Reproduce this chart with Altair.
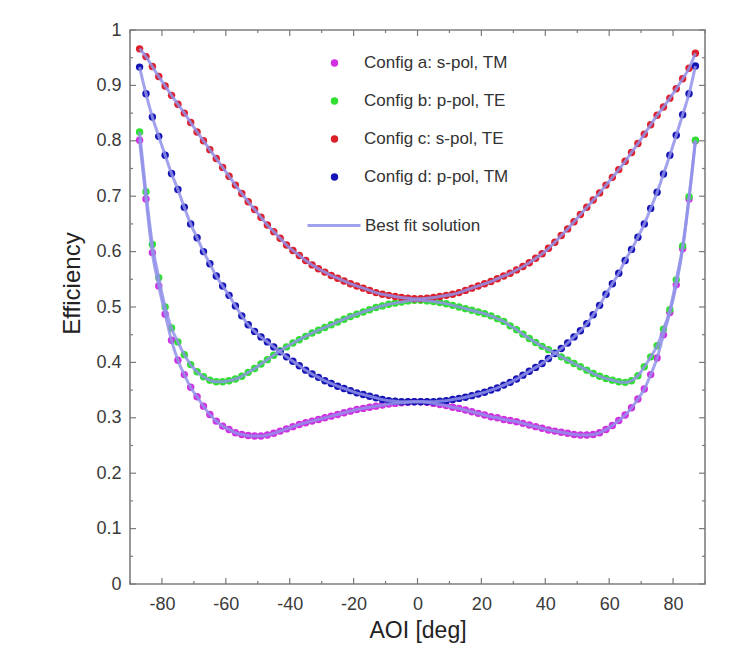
import altair as alt
import pandas as pd

aoi = [-87, -85, -83, -81, -79, -77, -75, -73, -71, -69, -67, -65, -63, -61, -59, -57, -55, -53, -51, -49, -47, -45,
       -43, -41, -39, -37, -35, -33, -31, -29, -27, -25, -23, -21, -19, -17, -15, -13, -11, -9, -7, -5, -3, -1,
       1, 3, 5, 7, 9, 11, 13, 15, 17, 19, 21, 23, 25, 27, 29, 31, 33, 35, 37, 39, 41, 43,
       45, 47, 49, 51, 53, 55, 57, 59, 61, 63, 65, 67, 69, 71, 73, 75, 77, 79, 81, 83, 85, 87]

eff_a = [0.801, 0.695, 0.598, 0.538, 0.487, 0.440, 0.404, 0.378, 0.355, 0.338, 0.321, 0.306, 0.294, 0.285, 0.279,
         0.273, 0.270, 0.268, 0.267, 0.267, 0.269, 0.272, 0.276, 0.280, 0.284, 0.288, 0.291, 0.294, 0.297, 0.300,
         0.303, 0.306, 0.309, 0.312, 0.315, 0.317, 0.319, 0.321, 0.323, 0.325, 0.326, 0.327, 0.328, 0.329,
         0.329, 0.328, 0.326, 0.324, 0.322, 0.319, 0.317, 0.314, 0.311, 0.308, 0.305, 0.302, 0.300, 0.297, 0.295,
         0.293, 0.290, 0.287, 0.284, 0.281, 0.278, 0.276, 0.274, 0.272, 0.270, 0.269, 0.269, 0.270, 0.273, 0.279,
         0.286, 0.295, 0.305, 0.318, 0.334, 0.352, 0.378, 0.408, 0.450, 0.490, 0.540, 0.605, 0.695, 0.800]

eff_b = [0.816, 0.708, 0.613, 0.553, 0.500, 0.462, 0.437, 0.414, 0.396, 0.383, 0.374, 0.368, 0.365, 0.365, 0.367,
         0.370, 0.375, 0.382, 0.389, 0.397, 0.405, 0.413, 0.421, 0.428, 0.435, 0.441, 0.447, 0.453, 0.458, 0.463,
         0.468, 0.473, 0.478, 0.483, 0.487, 0.491, 0.495, 0.499, 0.502, 0.505, 0.507, 0.509, 0.511, 0.512,
         0.512, 0.511, 0.510, 0.508, 0.506, 0.503, 0.500, 0.497, 0.494, 0.491, 0.488, 0.484, 0.479, 0.474, 0.466,
         0.459, 0.451, 0.443, 0.436, 0.429, 0.423, 0.417, 0.410, 0.404, 0.398, 0.392, 0.386, 0.380, 0.375, 0.371,
         0.368, 0.365, 0.364, 0.367, 0.376, 0.392, 0.410, 0.430, 0.460, 0.495, 0.549, 0.610, 0.699, 0.801]

eff_c = [0.966, 0.952, 0.934, 0.916, 0.899, 0.882, 0.866, 0.850, 0.833, 0.816, 0.800, 0.784, 0.768, 0.752, 0.736,
         0.720, 0.705, 0.690, 0.676, 0.662, 0.648, 0.636, 0.624, 0.612, 0.602, 0.593, 0.584, 0.576, 0.569, 0.563,
         0.557, 0.552, 0.547, 0.542, 0.538, 0.534, 0.530, 0.526, 0.523, 0.521, 0.519, 0.517, 0.516, 0.515,
         0.515, 0.516, 0.517, 0.519, 0.521, 0.523, 0.526, 0.530, 0.534, 0.538, 0.542, 0.546, 0.551, 0.556, 0.561,
         0.567, 0.573, 0.580, 0.588, 0.596, 0.606, 0.617, 0.629, 0.641, 0.654, 0.667, 0.680, 0.693, 0.706, 0.720,
         0.734, 0.748, 0.763, 0.779, 0.795, 0.812, 0.829, 0.846, 0.861, 0.877, 0.894, 0.912, 0.931, 0.958]

eff_d = [0.933, 0.885, 0.843, 0.808, 0.774, 0.741, 0.712, 0.680, 0.650, 0.625, 0.600, 0.578, 0.556, 0.538, 0.521,
         0.502, 0.484, 0.468, 0.456, 0.446, 0.437, 0.428, 0.419, 0.410, 0.402, 0.394, 0.386, 0.379, 0.373, 0.367,
         0.362, 0.357, 0.353, 0.349, 0.345, 0.342, 0.339, 0.336, 0.333, 0.331, 0.330, 0.329, 0.329, 0.329,
         0.329, 0.329, 0.329, 0.330, 0.331, 0.333, 0.335, 0.337, 0.340, 0.343, 0.346, 0.350, 0.354, 0.359, 0.364,
         0.370, 0.377, 0.384, 0.391, 0.398, 0.407, 0.416, 0.425, 0.435, 0.446, 0.457, 0.470, 0.486, 0.503, 0.523,
         0.542, 0.561, 0.584, 0.604, 0.626, 0.650, 0.678, 0.707, 0.740, 0.774, 0.810, 0.847, 0.885, 0.935]

configs = ["Config a: s-pol, TM", "Config b: p-pol, TE", "Config c: s-pol, TE", "Config d: p-pol, TM"]
colors = ["#d030e0", "#30e030", "#dd1f2a", "#1414b4"]
fit_label = ["Best fit solution"]
fit_color = "#9090ea"

x_major = [-80, -60, -40, -20, 0, 20, 40, 60, 80]
x_minor = [-90, -70, -50, -30, -10, 10, 30, 50, 70, 90]
y_major = [0, 0.1, 0.2, 0.3, 0.4, 0.5, 0.6, 0.7, 0.8, 0.9, 1]
y_minor = [0.05, 0.15, 0.25, 0.35, 0.45, 0.55, 0.65, 0.75, 0.85, 0.95]

W, H = 575, 554
font = "Liberation Sans"

rows = []
for name, vals in zip(configs, [eff_a, eff_b, eff_c, eff_d]):
    for a, v in zip(aoi, vals):
        rows.append({"aoi": a, "eff": v, "config": name, "fit": fit_label[0]})
df = pd.DataFrame(rows)

xs = alt.Scale(domain=[-90, 90], nice=False, zero=False)
ys = alt.Scale(domain=[0, 1], nice=False, zero=False)

x_axis = alt.Axis(values=x_major, ticks=False, domain=False, grid=False, labelFontSize=18,
                  labelExpr="datum.value < 0 ? '-' + abs(datum.value) : '' + datum.value",
                  labelColor="#3a3a3a", labelPadding=11, title="AOI [deg]", titleFontSize=23,
                  titleFontWeight="normal", titleColor="#222222", titlePadding=6, labelFont=font, titleFont=font)
y_axis = alt.Axis(values=y_major, format="~g", ticks=False, domain=False, grid=False, labelFontSize=18,
                  labelColor="#3a3a3a", labelPadding=9, title="Efficiency", titleFontSize=24,
                  titleFontWeight="normal", titleColor="#222222", titlePadding=11, titleY=253,
                  labelFont=font, titleFont=font)

points = alt.Chart(df).mark_circle(size=55, opacity=1).encode(
    x=alt.X("aoi:Q", scale=xs, axis=x_axis),
    y=alt.Y("eff:Q", scale=ys, axis=y_axis),
    color=alt.Color("config:N", scale=alt.Scale(domain=configs, range=colors),
                    legend=alt.Legend(title=None, orient="none", legendX=196, legendY=24.5, symbolType="circle",
                                      symbolSize=55, symbolStrokeWidth=0, labelFontSize=17, labelFont=font,
                                      labelColor="#333333", labelOffset=21, rowPadding=20, padding=0)),
)

lines = alt.Chart(df).mark_line(color=fit_color, strokeWidth=3, opacity=0.85, interpolate="monotone").encode(
    x=alt.X("aoi:Q", scale=xs),
    y=alt.Y("eff:Q", scale=ys),
    detail="config:N",
    strokeDash=alt.StrokeDash("fit:N", scale=alt.Scale(domain=fit_label, range=[[1, 0]]),
                              legend=alt.Legend(title=None, orient="none", legendX=176, legendY=167.5,
                                                symbolType="stroke", symbolSize=2809, symbolStrokeWidth=3,
                                                symbolStrokeColor=fit_color, labelFontSize=17, labelFont=font,
                                                labelColor="#333333", labelOffset=3, padding=0)),
)

tick_color = "#7a7a7a"
xmaj = pd.DataFrame({"v": x_major})
xmin = pd.DataFrame({"v": x_minor})
ymaj = pd.DataFrame({"v": y_major})
ymin = pd.DataFrame({"v": y_minor})

def xticks(d, length):
    bottom = alt.Chart(d).mark_rule(color=tick_color, strokeWidth=1.2).encode(
        x=alt.X("v:Q", scale=xs), y=alt.value(H), y2=alt.value(H - length))
    top = alt.Chart(d).mark_rule(color=tick_color, strokeWidth=1.2).encode(
        x=alt.X("v:Q", scale=xs), y=alt.value(0), y2=alt.value(length))
    return bottom + top

def yticks(d, length):
    left = alt.Chart(d).mark_rule(color=tick_color, strokeWidth=1.2).encode(
        y=alt.Y("v:Q", scale=ys), x=alt.value(0), x2=alt.value(length))
    right = alt.Chart(d).mark_rule(color=tick_color, strokeWidth=1.2).encode(
        y=alt.Y("v:Q", scale=ys), x=alt.value(W), x2=alt.value(W - length))
    return left + right

chart = alt.layer(
    xticks(xmaj, 6), xticks(xmin, 3), yticks(ymaj, 6), yticks(ymin, 3), points, lines
).properties(
    width=W, height=H,
    autosize=alt.AutoSizeParams(type="none"),
    padding={"left": 130, "top": 30, "right": 41, "bottom": 65},
    background="white",
).configure_view(
    stroke="#7f7f7f", strokeWidth=1.6
)

chart.save("out.html", embed_options={"renderer": "svg", "actions": False})
